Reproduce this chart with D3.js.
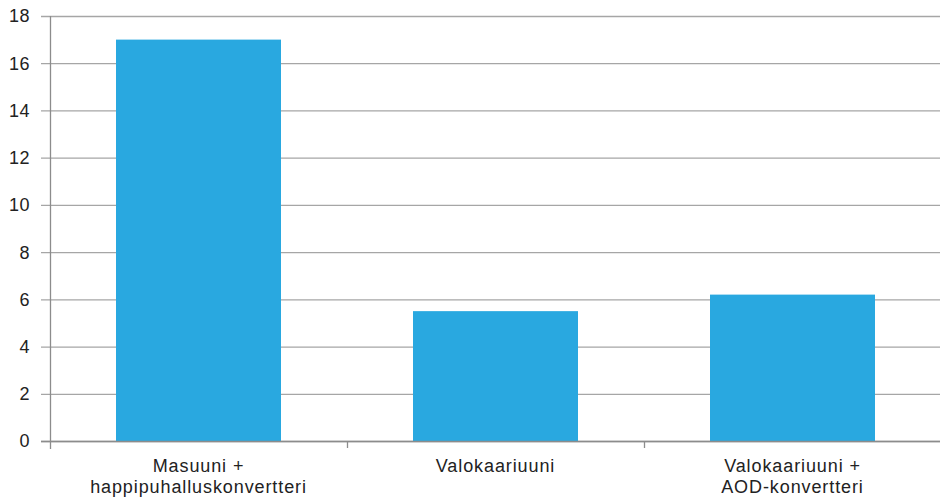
<!DOCTYPE html>
<html><head><meta charset="utf-8">
<script src="https://cdn.jsdelivr.net/npm/d3@7/dist/d3.min.js"></script>
<style>body{margin:0;background:#fff;} svg{display:block;}</style>
</head><body>
<svg id="c" width="940" height="500"></svg>
<script>
const categories = [["Masuuni +","happipuhalluskonvertteri"],["Valokaariuuni"],["Valokaariuuni +","AOD-konvertteri"]];
const values = [17, 5.5, 6.2];
const yTicks = [0,2,4,6,8,10,12,14,16,18];

const svg = d3.select("#c");
const font = "'Liberation Sans', Arial, sans-serif";
const xb = d3.scaleBand().domain(d3.range(categories.length)).range([50, 941]);
const y = d3.scaleLinear().domain([0,18]).range([441, 16]);

// gridlines
svg.append("g").selectAll("line").data(yTicks).join("line")
  .attr("x1", 41).attr("x2", 940)
  .attr("y1", d => y(d)+0.5).attr("y2", d => y(d)+0.5)
  .attr("stroke", "#a6a6a6").attr("stroke-width", 1.3);

// y labels
svg.append("g").selectAll("text").data(yTicks).join("text")
  .attr("x", 30).attr("y", d => y(d)).attr("dy", "0.36em")
  .attr("text-anchor", "end").attr("font-family", font).attr("font-size", 18)
  .attr("letter-spacing", 0.5)
  .attr("fill", "#222").text(d => d);

// bars
svg.append("g").selectAll("rect").data(values).join("rect")
  .attr("x", (d,i) => xb(i) + (xb.bandwidth()-165)/2).attr("width", 165)
  .attr("y", d => y(d)).attr("height", d => y(0) - y(d))
  .attr("fill", "#29a8e0");

// y axis line
svg.append("line").attr("x1", 50.5).attr("x2", 50.5).attr("y1", 16).attr("y2", 449)
  .attr("stroke", "#8c8c8c").attr("stroke-width", 1.3);
// x axis line
svg.append("line").attr("x1", 41).attr("x2", 940).attr("y1", y(0)+0.5).attr("y2", y(0)+0.5)
  .attr("stroke", "#8c8c8c").attr("stroke-width", 1.3);
// x ticks at band boundaries
const bounds = d3.range(categories.length).map(i => xb(i) + xb.bandwidth()).slice(0, -1);
svg.append("g").selectAll("line").data(bounds).join("line")
  .attr("x1", d => d+0.5).attr("x2", d => d+0.5).attr("y1", y(0)).attr("y2", y(0)+7)
  .attr("stroke", "#8c8c8c").attr("stroke-width", 1.3);

// category labels
const lab = svg.append("g").selectAll("text").data(categories).join("text")
  .attr("x", (d,i) => xb(i) + xb.bandwidth()/2).attr("y", 472)
  .attr("text-anchor", "middle").attr("font-family", font).attr("font-size", 18)
  .attr("letter-spacing", 0.9).attr("fill", "#222");
lab.selectAll("tspan").data(d => d).join("tspan")
  .attr("x", function(){ return this.parentNode.getAttribute("x"); })
  .attr("dy", (d,i) => i === 0 ? 0 : 21).text(d => d);
</script>
</body></html>
